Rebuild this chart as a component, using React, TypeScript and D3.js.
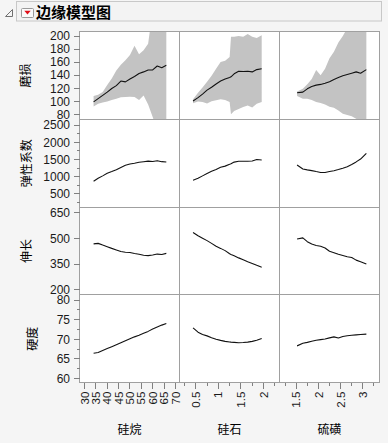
import React from 'react';
import * as d3 from 'd3';

// ---- factors (columns) and responses (rows) ----
const FACTORS = ['硅烷', '硅石', '硫磺'];
const RESPONSES = ['磨损', '弹性系数', '伸长', '硬度'];

// ---- x grids ----
const SILANE_X = [34, 36, 38, 40, 42, 44, 46, 48, 50, 52, 54, 56, 58, 60, 62, 64, 66];
const SILICA_X = [0.44, 0.55, 0.65, 0.75, 0.85, 0.95, 1.05, 1.15, 1.25, 1.28, 1.35, 1.45, 1.55, 1.65, 1.75, 1.85, 1.96];
const SULFUR_X = [1.52, 1.65, 1.75, 1.85, 1.95, 2.05, 2.15, 2.25, 2.35, 2.45, 2.55, 2.65, 2.75, 2.85, 2.95, 3.08];

// ---- 磨损 (with band) ----
const WEAR_BY_SILANE = [99, 104, 109, 114, 119.5, 124, 131, 129.7, 134, 138, 142.5, 145, 148, 148, 154, 151.5, 155];
const WEAR_BY_SILANE_HI = [108, 110, 114, 125, 135, 147, 156, 163, 171, 185, 172, 178, 188, 240, 270, 290, 300];
const WEAR_BY_SILANE_LO = [92, 96, 98, 99.5, 102, 104, 106, 106.7, 107, 106.7, 102, 109, 95, 76, 55, 45, 50];

const WEAR_BY_SILICA = [100.5, 105.5, 111, 117, 121.5, 126.5, 131, 134, 136.5, 137.5, 142, 146, 145.5, 146, 145, 148.5, 149.7];
const WEAR_BY_SILICA_HI = [103, 113, 121, 130, 139, 150, 160, 162, 168, 199, 199, 200, 199, 203, 199, 197, 201];
const WEAR_BY_SILICA_LO = [97, 99.5, 99, 96.5, 100, 101.5, 103, 102, 99, 80, 85, 88, 91, 93.5, 90.5, 96, 99];

const WEAR_BY_SULFUR = [113, 114, 119, 122.5, 124.7, 125.8, 127.5, 130, 133.5, 136.5, 139, 141, 143, 145, 143, 148.5];
const WEAR_BY_SULFUR_HI = [115, 119, 126, 134, 148, 140, 150, 166, 176, 190, 200, 212, 225, 235, 245, 255];
const WEAR_BY_SULFUR_LO = [108, 104, 104, 102, 99, 97.5, 95, 91.5, 90, 86, 81, 79, 77, 73, 68, 65];

// ---- 弹性系数 ----
const ELASTIC_BY_SILANE = [870, 955, 1025, 1099, 1150, 1205, 1270, 1335, 1370, 1392, 1418, 1436, 1453, 1440, 1466, 1437, 1427];
const ELASTIC_BY_SILICA = [898, 955, 1025, 1097, 1160, 1210, 1273, 1308, 1360, 1378, 1425, 1447, 1447, 1448, 1456, 1500, 1487];
const ELASTIC_BY_SULFUR = [1340, 1225, 1200, 1178, 1150, 1125, 1125, 1150, 1176, 1208, 1245, 1291, 1355, 1430, 1512, 1680];

// ---- 伸长 ----
const ELONG_BY_SILANE = [467, 470, 460, 451, 441, 432, 423, 419, 417, 411, 407, 401, 399, 403, 408, 406, 412];
const ELONG_BY_SILICA = [533, 514, 500, 486, 470, 453, 441, 428, 410, 406, 398, 386, 375, 364, 354, 343, 332];
const ELONG_BY_SULFUR = [495, 502, 480, 466, 458, 453, 443, 424, 416, 407, 400, 393, 388, 373, 364, 351];

// ---- 硬度 ----
const HARD_BY_SILANE = [66.4, 66.6, 67.1, 67.6, 68.1, 68.6, 69.1, 69.6, 70.1, 70.6, 71.0, 71.5, 72.0, 72.6, 73.1, 73.6, 74.0];
const HARD_BY_SILICA = [72.9, 71.8, 71.2, 70.85, 70.4, 70.0, 69.7, 69.45, 69.3, 69.25, 69.2, 69.1, 69.15, 69.25, 69.45, 69.75, 70.2];
const HARD_BY_SULFUR = [68.3, 68.95, 69.2, 69.5, 69.75, 69.9, 70.05, 70.35, 70.6, 70.3, 70.7, 70.9, 71.0, 71.1, 71.2, 71.3];

// ---- axes ----
const X_DOMAINS = [[27.8, 71.8], [0.14, 2.354], [1.124, 3.376]];
const X_MAJOR = [[30, 35, 40, 45, 50, 55, 60, 65, 70], [0.5, 1, 1.5, 2], [1.5, 2, 2.5, 3]];
const X_MINOR = [[], [0.25, 0.75, 1.25, 1.75, 2.25], [1.25, 1.75, 2.25, 2.75, 3.25]];

const Y_DOMAINS = [[72.1, 206.6], [117, 2661], [171.3, 679.5], [58.9, 81.3]];
const Y_MAJOR = [[80, 100, 120, 140, 160, 180, 200], [500, 1000, 1500, 2000, 2500], [200, 350, 500, 650], [60, 65, 70, 75, 80]];
const Y_MINOR = [[], [250, 750, 1250, 1750, 2250], [], [62.5, 67.5, 72.5, 77.5]];
const Y_TITLE_X = [26, 27, 27, 32.5];

type Series = { x: number[]; y: number[]; lo?: number[]; hi?: number[] };
const XS = [SILANE_X, SILICA_X, SULFUR_X];
const PANELS: Series[][] = [
  [
    { x: SILANE_X, y: WEAR_BY_SILANE, lo: WEAR_BY_SILANE_LO, hi: WEAR_BY_SILANE_HI },
    { x: SILICA_X, y: WEAR_BY_SILICA, lo: WEAR_BY_SILICA_LO, hi: WEAR_BY_SILICA_HI },
    { x: SULFUR_X, y: WEAR_BY_SULFUR, lo: WEAR_BY_SULFUR_LO, hi: WEAR_BY_SULFUR_HI },
  ],
  [
    { x: SILANE_X, y: ELASTIC_BY_SILANE },
    { x: SILICA_X, y: ELASTIC_BY_SILICA },
    { x: SULFUR_X, y: ELASTIC_BY_SULFUR },
  ],
  [
    { x: SILANE_X, y: ELONG_BY_SILANE },
    { x: SILICA_X, y: ELONG_BY_SILICA },
    { x: SULFUR_X, y: ELONG_BY_SULFUR },
  ],
  [
    { x: SILANE_X, y: HARD_BY_SILANE },
    { x: SILICA_X, y: HARD_BY_SILICA },
    { x: SULFUR_X, y: HARD_BY_SULFUR },
  ],
];

const NUM_FONT = '"Liberation Sans", Arial, sans-serif';
const CJK_FONT = '"Noto Sans CJK SC", "Noto Sans", sans-serif';

export default function App() {
  const W = 388, H = 443;
  const L = 79.5, CW = 100, T = 31.7, RH = 87.75;
  const B = T + 4 * RH;
  const R = L + 3 * CW;

  const xScales = X_DOMAINS.map((d, i) => d3.scaleLinear().domain(d).range([L + i * CW, L + (i + 1) * CW]));
  const yScales = Y_DOMAINS.map((d, r) => d3.scaleLinear().domain(d).range([T + (r + 1) * RH, T + r * RH]));

  const panels: React.ReactNode[] = [];
  PANELS.forEach((row, r) => {
    row.forEach((s, c) => {
      const xs = xScales[c], ys = yScales[r];
      const idx = d3.range(s.x.length);
      const line = d3.line<number>().x(i => xs(s.x[i])).y(i => ys(s.y[i]));
      const id = `clip-${r}-${c}`;
      const x0 = L + c * CW, y0 = T + r * RH;
      let band: string | null = null;
      if (s.lo && s.hi) {
        const lo = s.lo, hi = s.hi;
        band = d3.area<number>().x(i => xs(s.x[i])).y0(i => ys(lo[i])).y1(i => ys(hi[i]))(idx);
      }
      panels.push(
        <g key={id}>
          <clipPath id={id}><rect x={x0} y={y0} width={CW} height={RH} /></clipPath>
          <rect x={x0} y={y0} width={CW} height={RH} fill="#ffffff" />
          <g clipPath={`url(#${id})`}>
            {band && <path d={band} fill="#c3c3c3" stroke="none" />}
            <path d={line(idx) || ''} fill="none" stroke="#111" strokeWidth={1.1} strokeLinejoin="round" />
          </g>
        </g>
      );
    });
  });

  return (
    <svg width={W} height={H} style={{ position: 'absolute', left: 0, top: 0, display: 'block' }}>
      <rect x={0} y={0} width={W} height={H} fill="#f5f5f5" />
      {/* header */}
      <rect x={16.5} y={1.5} width={365} height={19.5} fill="#f3f3f3" stroke="#c8c8c8" />
      <path d="M5.5,16.5 L12.5,16.5 L12.5,9.5 Z" fill="none" stroke="#707070" strokeWidth={1} />
      <rect x={21.5} y={8.5} width={12} height={9} rx={1} fill="#fbfbfb" stroke="#9a9a9a" />
      <path d="M24.3,10.8 L30.7,10.8 L27.5,14.6 Z" fill="#e0101a" />
      <text x={36} y={17.5} fontFamily={CJK_FONT} fontSize={15} fontWeight="bold" fill="#000">边缘模型图</text>

      {panels}

      {/* grid lines */}
      <g stroke="#a0a0a0" strokeWidth={1} fill="none" shapeRendering="crispEdges">
        <rect x={L} y={T} width={3 * CW} height={4 * RH} />
        {[1, 2].map(c => <line key={'v' + c} x1={L + c * CW} x2={L + c * CW} y1={T} y2={B} />)}
        {[1, 2, 3].map(r => <line key={'h' + r} x1={L} x2={R} y1={T + r * RH} y2={T + r * RH} />)}
      </g>

      {/* y axes */}
      {RESPONSES.map((name, r) => {
        const ys = yScales[r];
        return (
          <g key={'y' + r}>
            {Y_MAJOR[r].map(v => (
              <g key={v}>
                <line x1={L - 6} x2={L} y1={ys(v)} y2={ys(v)} stroke="#808080" shapeRendering="crispEdges" />
                <text x={L - 9.5} y={ys(v)} dy="0.36em" textAnchor="end" fontFamily={NUM_FONT} fontSize={12} fill="#1a1a1a">{v}</text>
              </g>
            ))}
            {Y_MINOR[r].map(v => (
              <line key={'m' + v} x1={L - 3} x2={L} y1={ys(v)} y2={ys(v)} stroke="#808080" shapeRendering="crispEdges" />
            ))}
            <text transform={`translate(${Y_TITLE_X[r]},${T + (r + 0.5) * RH}) rotate(-90)`} textAnchor="middle" dy="0.36em"
              fontFamily={CJK_FONT} fontSize={12} fill="#000">{name}</text>
          </g>
        );
      })}

      {/* x axes */}
      {FACTORS.map((name, c) => {
        const xs = xScales[c];
        return (
          <g key={'x' + c}>
            {X_MAJOR[c].map(v => (
              <g key={v}>
                <line x1={xs(v)} x2={xs(v)} y1={B} y2={B + 6} stroke="#808080" shapeRendering="crispEdges" />
                <text transform={`translate(${xs(v)},${B + 9}) rotate(-90)`} dy="0.36em" textAnchor="end"
                  fontFamily={NUM_FONT} fontSize={11.5} fill="#1a1a1a">{String(v)}</text>
              </g>
            ))}
            {X_MINOR[c].map(v => (
              <line key={'m' + v} x1={xs(v)} x2={xs(v)} y1={B} y2={B + 3} stroke="#808080" shapeRendering="crispEdges" />
            ))}
            <text x={L + (c + 0.5) * CW} y={434} textAnchor="middle" fontFamily={CJK_FONT} fontSize={12} fill="#000">{name}</text>
          </g>
        );
      })}
    </svg>
  );
}
